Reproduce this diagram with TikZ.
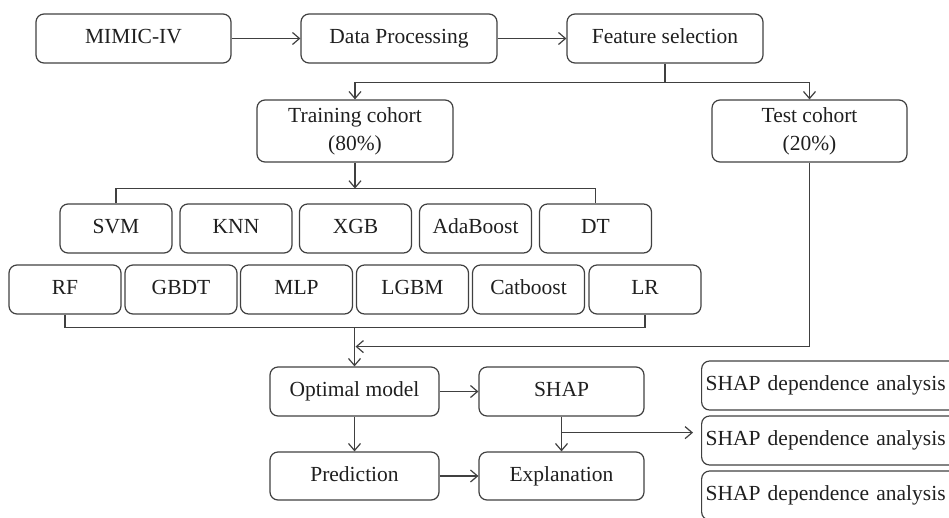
\documentclass[tikz,border=0pt]{standalone}
\usepackage{fontspec}
\setmainfont{Liberation Serif}
\usetikzlibrary{arrows.meta,calc}
\begin{document}
\begin{tikzpicture}[x=1pt,y=-1pt,
  box/.style={draw=black!75,line width=1.2pt,rounded corners=8pt,inner sep=0pt,
    text=black!88,font=\fontsize{21.5}{28}\selectfont,align=center},
  sbox/.style={box,text height=15pt,text depth=5pt},
  ln/.style={draw=black!75,line width=1.2pt},
  arr/.style={ln,-{Straight Barb[length=7pt,width=12pt,line width=1.2pt]}}]
\useasboundingbox (0,0) rectangle (949,517);
\clip (0,0) rectangle (949,517);
% top row
\node[sbox,minimum width=195pt,minimum height=49pt] (mimic) at (133.5,38.5) {MIMIC-IV};
\node[sbox,minimum width=196pt,minimum height=49pt] (dp) at (399,38.5) {Data Processing};
\node[sbox,minimum width=196pt,minimum height=49pt] (fs) at (665,38.5) {Feature selection};
% cohorts
\node[box,minimum width=196pt,minimum height=62pt] (train) at (355,131) {Training cohort\\(80\%)};
\node[box,minimum width=195pt,minimum height=62pt] (test) at (809.5,131) {Test cohort\\(20\%)};
% models
\foreach \n/\t/\x in {svm/SVM/116,knn/KNN/236,xgb/XGB/355.5,ada/AdaBoost/475.5,dt/DT/595.5}
  \node[sbox,minimum width=112pt,minimum height=49pt] (\n) at (\x,228.5) {\t};
\foreach \n/\t/\x in {rf/RF/65,gbdt/GBDT/181,mlp/MLP/296.5,lgbm/LGBM/412.5,cat/Catboost/528.5,lr/LR/645}
  \node[sbox,minimum width=112pt,minimum height=49pt] (\n) at (\x,289.5) {\t};
% lower part
\node[sbox,minimum width=169pt,minimum height=49pt] (opt) at (354.5,391.5) {Optimal model};
\node[sbox,minimum width=165pt,minimum height=49pt] (shap) at (561.5,391.5) {SHAP};
\node[sbox,minimum width=169pt,minimum height=48pt] (pred) at (354.5,476) {Prediction};
\node[sbox,minimum width=165pt,minimum height=48pt] (expl) at (561.5,476) {Explanation};
% SHAP dependence boxes (boxes run past the right edge)
\foreach \n/\y in {dep1/385.5,dep2/440.5,dep3/495.5}
  \node[sbox,minimum width=300pt,minimum height=49pt,anchor=west,text width=292pt,align=left] (\n) at (701,\y) {SHAP dependence analysis};
% connectors
\draw[arr] (mimic) -- (dp);
\draw[arr] (dp) -- (fs);
\coordinate (fsj) at ($(fs.south)+(0,19)$);
\draw[ln] (fs.south) -- (fsj);
\draw[arr] (fsj) -| (train.north);
\draw[arr] (fsj) -| (test.north);
\coordinate (trj) at ($(train.south)+(0,26)$);
\draw[ln] (svm.north) |- (trj) -| (dt.north);
\draw[arr] (train.south) -- (trj);
\coordinate (bj) at ($(rf.south)+(0,13)$);
\draw[ln] (rf.south) -- (bj) -| (lr.south);
\coordinate (mj) at (bj -| opt.north);
\draw[arr] (mj) -- (opt.north);
\coordinate (tj) at ($(test.south)+(0,184)$);
\draw[ln] (test.south) -- (tj);
\draw[arr] (tj) -- ($(tj -| opt.north)+(1,0)$);
\draw[arr] (opt) -- (shap);
\draw[arr] (opt) -- (pred);
\draw[arr] (pred) -- (expl);
\draw[arr] (shap) -- (expl);
\coordinate (sj) at ($(shap.south)+(0,16)$);
\draw[arr,shorten >=8pt] (sj) -- (sj -| dep2.west);
\end{tikzpicture}
\end{document}
